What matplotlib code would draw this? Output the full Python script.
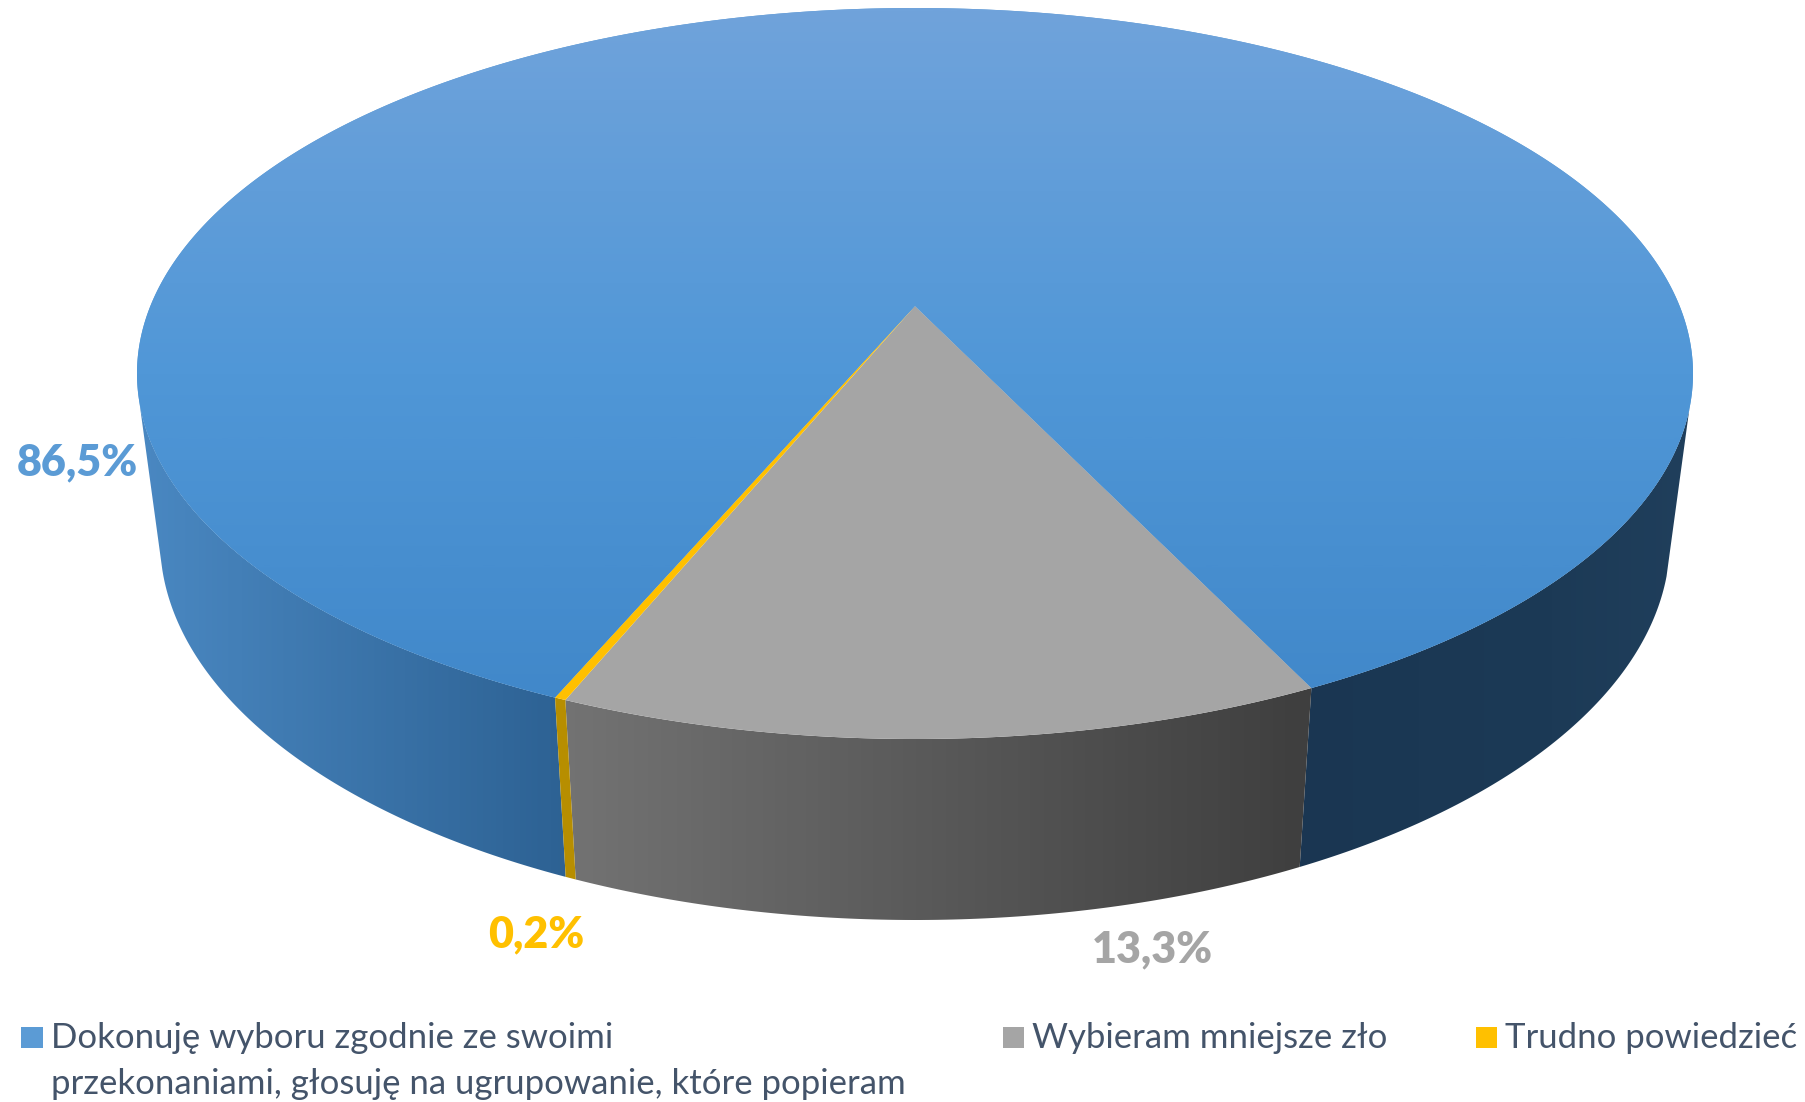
import numpy as np
import matplotlib
matplotlib.use('Agg')
import matplotlib.pyplot as plt
from matplotlib.colors import LinearSegmentedColormap
from matplotlib.patches import Polygon, Rectangle

plt.rcParams['font.family'] = ['Lato', 'DejaVu Sans']

# dane
categories = ['Dokonuję wyboru zgodnie ze swoimi\nprzekonaniami, głosuję na ugrupowanie, które popieram',
              'Wybieram mniejsze zło', 'Trudno powiedzieć']
values = [86.5, 13.3, 0.2]
value_labels = ['86,5%', '13,3%', '0,2%']

# kolory
top_colors = ['#5B9BD5', '#A5A5A5', '#FFC000']
label_colors = ['#5B9BD5', '#A5A5A5', '#FFC000']
legend_text = '#44546A'

start_angle = 203.0   # zgodnie z ruchem wskazówek, od góry
k = -0.1847           # perspektywa
cx = 915
top_ell = (778, 365.5, 373.5)
bot_ell = (755, 380.0, 540.0)


def project(phi, ell):
    # punkt na okregu -> piksele, z perspektywa
    a, b, cy = ell
    u = np.sin(np.radians(phi))
    v = -np.cos(np.radians(phi))
    d = 1 + k * v
    return cx + a * u * np.sqrt(1 - k ** 2) / d, cy + b * (v + k) / d


apex = (cx, top_ell[2] + top_ell[1] * k)

fig = plt.figure(figsize=(18.06, 11.02), dpi=100)
ax = fig.add_axes([0, 0, 1, 1])

# granice wycinkow z wartosci
edges = start_angle + np.concatenate([[0], np.cumsum(values)]) * 3.6

side_cmaps = [
    LinearSegmentedColormap.from_list('b', [(0, '#4A88C2'), (0.263, '#2E6395'), (0.74, '#1A3652'),
                                            (0.91, '#1C3A56'), (1, '#203F5C')]),
    LinearSegmentedColormap.from_list('g', [(0, '#868686'), (0.263, '#747474'), (0.74, '#404040'), (1, '#303030')]),
    LinearSegmentedColormap.from_list('y', ['#B78E00', '#B78E00']),
]
x0, x1 = 137, 1693
side_grad = np.linspace(0, 1, 800).reshape(1, -1)


def side(a0, a1, cmap):
    # sciana boczna: gradient poziomy przyciety do wielokata
    ph = np.linspace(a0, a1, max(int((a1 - a0) * 2), 2) + 1)
    xt, yt = project(ph, top_ell)
    xb, yb = project(ph[::-1], bot_ell)
    pts = np.column_stack([np.concatenate([xt, xb]), np.concatenate([yt, yb])])
    patch = Polygon(pts, closed=True, facecolor='none', edgecolor='none')
    ax.add_patch(patch)
    im = ax.imshow(side_grad, cmap=cmap, extent=(x0, x1, 1000, 300), aspect='auto', zorder=2)
    im.set_clip_path(patch)


# 255 i 106 stopni: tam krawedz boczna jest styczna do obu elips
side(edges[0], 255, side_cmaps[0])
side(360 + 106, edges[1], side_cmaps[0])
side(edges[1], edges[2], side_cmaps[1])
side(edges[2], edges[3], side_cmaps[2])

# gora
top_cmap = LinearSegmentedColormap.from_list('t', ['#70A3DB', '#5097D7', '#3F86C8'])
grad = np.linspace(0, 1, 400).reshape(-1, 1)
for i in range(3):
    ph = np.arange(edges[i], edges[i + 1], 0.25)
    ph = np.append(ph, edges[i + 1])
    xs, ys = project(ph, top_ell)
    pts = np.column_stack([np.append(xs, apex[0]), np.append(ys, apex[1])])
    patch = Polygon(pts, closed=True, facecolor=top_colors[i], edgecolor='none', zorder=3)
    ax.add_patch(patch)
    if i == 0:
        im = ax.imshow(grad, cmap=top_cmap, extent=(x0, x1, 740, 8), aspect='auto', zorder=3.1)
        im.set_clip_path(patch)

ax.set_xlim(0, 1806)
ax.set_ylim(1102, 0)
ax.axis('off')

# etykiety
label_font = dict(fontsize=31, fontweight='heavy', va='baseline', zorder=5)
ax.text(17, 475, value_labels[0], color=label_colors[0], **label_font)
ax.text(1092, 962, value_labels[1], color=label_colors[1], **label_font)
ax.text(488, 947, value_labels[2], color=label_colors[2], **label_font)

# legenda
legend_x = [21, 1003, 1476]
swatch = [22, 21, 21]
for i, cat in enumerate(categories):
    col = top_colors[i]
    ax.add_patch(Rectangle((legend_x[i], 1027), swatch[i], 21, facecolor=col, edgecolor='none'))
    for j, line in enumerate(cat.split('\n')):
        ax.text(legend_x[i] + swatch[i] + 8, 1048 + 46 * j, line, color=legend_text, fontsize=25,
                va='baseline', ha='left')

fig.savefig('out.png', dpi=100)
